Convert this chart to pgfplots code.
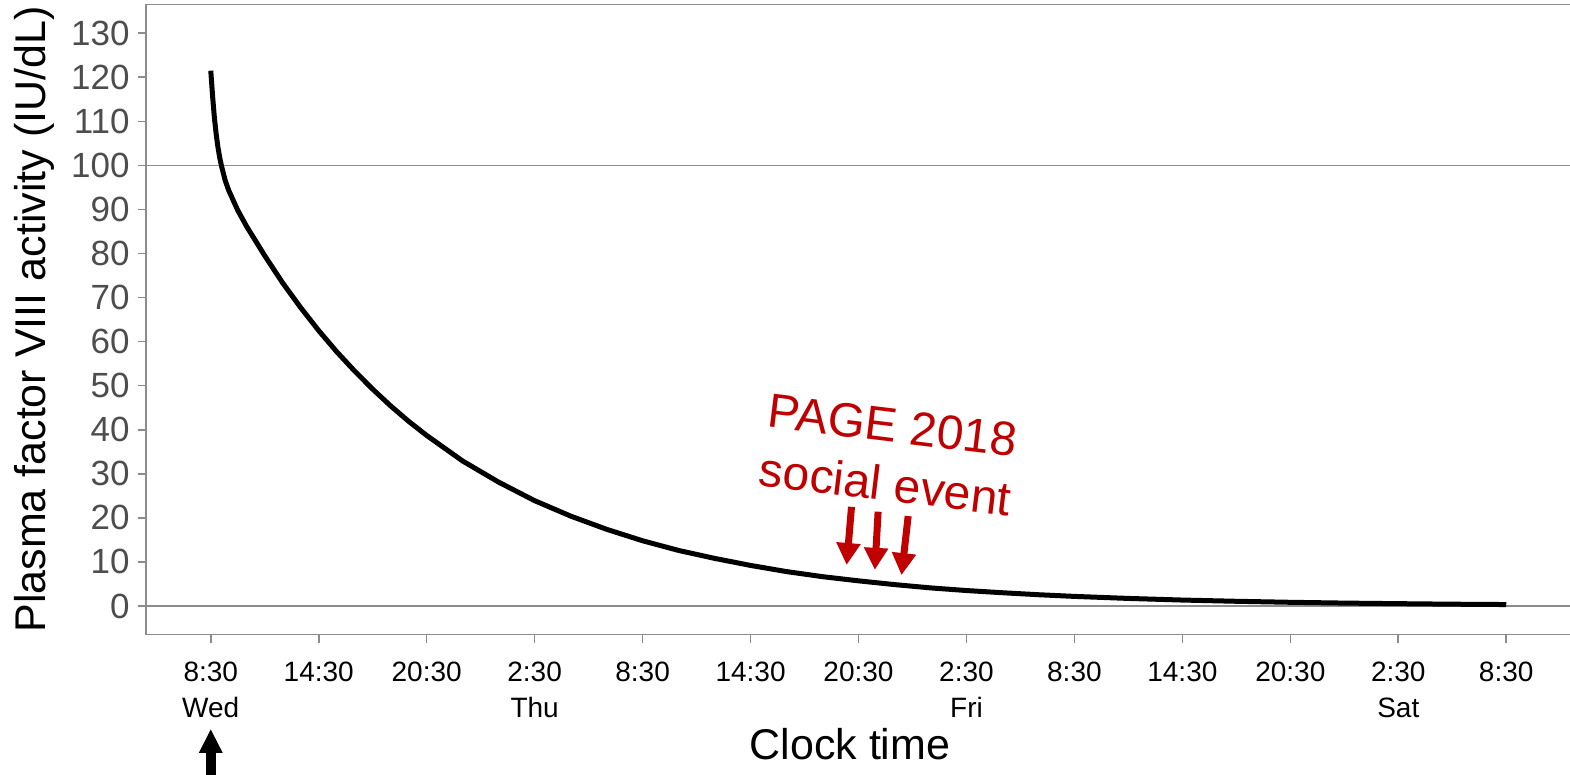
\documentclass[border=0pt]{standalone}
\usepackage{fontspec}
\setmainfont{Liberation Sans}
\usepackage{pgfplots}
\pgfplotsset{compat=1.18}
\usetikzlibrary{arrows.meta}
\definecolor{axgray}{RGB}{140,140,140}
\definecolor{tickgray}{RGB}{77,77,77}
\definecolor{pagered}{RGB}{192,0,0}
\begin{document}
\begin{tikzpicture}
\begin{axis}[
  at={(0,0)}, anchor=south west,
  scale only axis,
  width=712.5pt, height=315pt,
  xmin=-3.6, xmax=75.6,
  ymin=-6.5, ymax=136.5,
  clip=false,
  axis line style={draw=none},
  tick align=outside,
  major tick length=4pt,
  tick style={axgray, line width=0.8pt},
  xtick pos=bottom, ytick pos=left,
  xtick={0,6,12,18,24,30,36,42,48,54,60,66,72},
  xticklabels={{8:30\\Wed},14:30,20:30,{2:30\\Thu},8:30,14:30,20:30,{2:30\\Fri},8:30,14:30,20:30,{2:30\\Sat},8:30},
  xticklabel style={align=center, anchor=north, inner sep=0pt, yshift=-9.5pt, font=\fontsize{14}{17.8}\selectfont, text=black},
  ytick={0,10,...,130},
  yticklabel style={anchor=east, inner sep=0pt, xshift=-4pt, font=\fontsize{17.5}{20}\selectfont, text=tickgray},
  /pgf/number format/assume math mode=true,
  xlabel={Clock time},
  xlabel style={at={(axis description cs:0.494,0)}, anchor=base, inner sep=0pt, yshift=-62.7pt, font=\fontsize{21.5}{24}\selectfont},
  ylabel={Plasma factor VIII activity (IU/dL)},
  ylabel style={at={(axis description cs:-0.0786,0.5)}, anchor=center, inner sep=0pt, font=\fontsize{21.5}{24}\selectfont},
]
\draw[axgray, line width=0.8pt] (rel axis cs:1,1) -- (rel axis cs:0,1) -- (rel axis cs:0,0) -- (rel axis cs:1,0);
\addplot[axgray, line width=0.8pt, forget plot] coordinates {(-3.6,100) (75.6,100)};
\addplot[axgray, line width=0.8pt, forget plot] coordinates {(-3.6,0) (75.6,0)};
\addplot[black, line width=2.5pt, line join=round] coordinates {
(0,121.5)(0.1,115.8)(0.2,110.9)(0.3,107.1)(0.4,104.1)(0.5,101.7)(0.6,99.8)(0.8,96.6)(1,94.3)(1.5,89.8)(2,86.1)(3,79.5)(4,73.3)(5,67.7)(6,62.5)(7,57.7)(8,53.3)(9,49.2)(10,45.4)(11,41.9)(12,38.7)(14,32.9)(16,28.1)(18,23.9)(20,20.4)(22,17.4)(24,14.8)(26,12.6)(28,10.8)(30,9.2)(32,7.8)(34,6.65)(36,5.7)(38,4.85)(40,4.1)(42,3.5)(44,3.0)(46,2.55)(48,2.17)(51,1.71)(54,1.34)(57,1.06)(60,0.83)(63,0.65)(66,0.52)(69,0.40)(72,0.32)};
\node[pagered, rotate=-7, align=center, inner sep=0pt, font=\fontsize{24}{29.5}\selectfont] at (axis cs:37.7,34.3) {PAGE 2018\\social event};
\draw[pagered, line width=3.5pt, -{Triangle[width=11.5pt,length=11pt]}] (axis cs:35.61,22.5) -- (axis cs:35.34,9.3);
\draw[pagered, line width=3.5pt, -{Triangle[width=11.5pt,length=11pt]}] (axis cs:37.09,21.4) -- (axis cs:36.91,8.2);
\draw[pagered, line width=3.5pt, -{Triangle[width=11.5pt,length=11pt]}] (axis cs:38.76,20.4) -- (axis cs:38.39,7.0);
\draw[black, line width=5pt, -{Triangle[width=11pt,length=12pt]}] (axis cs:0,-44) -- (axis cs:0,-27.9);
\end{axis}
\pgfresetboundingbox
\useasboundingbox (-73pt,-70.2pt) rectangle (712pt,317.3pt);
\end{tikzpicture}
\end{document}
